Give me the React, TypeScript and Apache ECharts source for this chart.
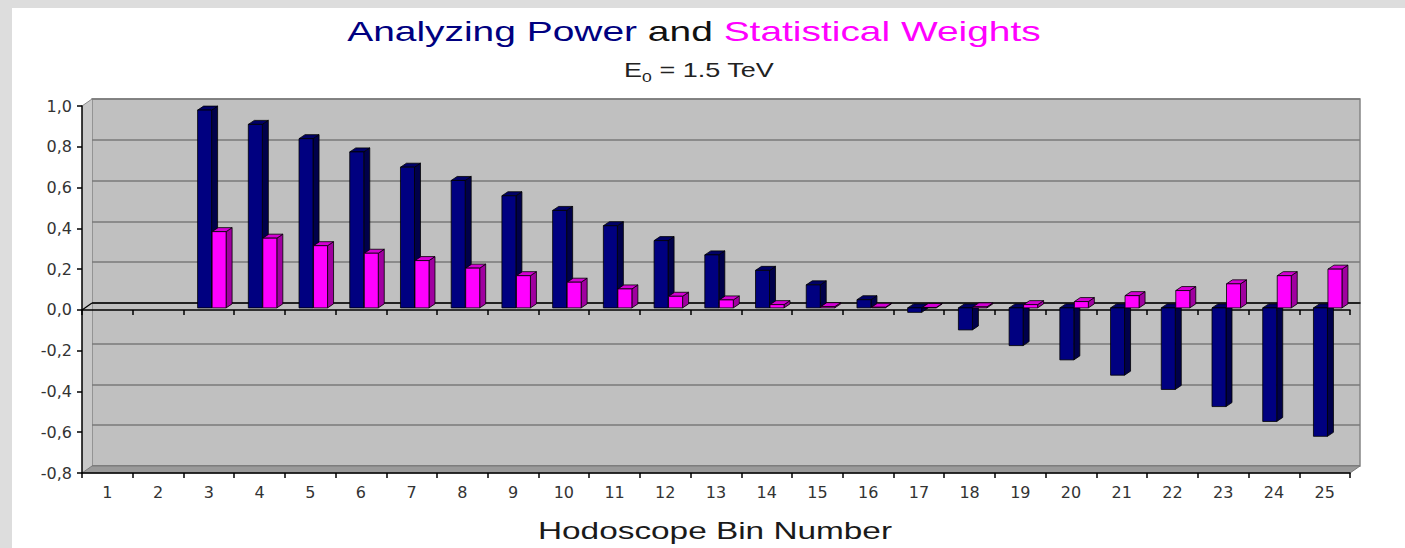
import React, { useEffect, useRef } from 'react';
import * as echarts from 'echarts';

// ---- Data ----
const categories = ['1', '2', '3', '4', '5', '6', '7', '8', '9', '10', '11', '12', '13', '14', '15', '16', '17', '18', '19', '20', '21', '22', '23', '24', '25'];
const analyzingPower: (number | null)[] = [null, null, 0.97, 0.9, 0.83, 0.765, 0.69, 0.625, 0.55, 0.478, 0.403, 0.33, 0.26, 0.184, 0.113, 0.04, -0.022, -0.108, -0.185, -0.255, -0.33, -0.4, -0.484, -0.557, -0.63];
const statisticalWeights: (number | null)[] = [null, null, 0.374, 0.342, 0.305, 0.268, 0.232, 0.195, 0.158, 0.126, 0.093, 0.057, 0.039, 0.016, 0.006, 0.003, 0.002, 0.005, 0.016, 0.031, 0.06, 0.085, 0.118, 0.158, 0.19];
const Y_MIN = -0.8;
const Y_MAX = 1.0;
const Y_STEP = 0.2;

// ---- Styling constants ----
const WALL_DX = 10;
const WALL_DY = 7;
const BAR_W = 14;
const BAR_DX = 6;
const BAR_DY = 4;
const BAR_LIFT = 2;

function barRenderer(xOffset: number, front: string, side: string, top: string) {
  return (params: any, api: any) => {
    const i = api.value(0);
    const v = api.value(1);
    if (v == null || isNaN(v)) return null;
    const p0 = api.coord([i, 0]);
    const p1 = api.coord([i, v]);
    const x = p0[0] + xOffset;
    const yA = Math.min(p0[1], p1[1]) - BAR_LIFT;
    const yB = Math.max(p0[1], p1[1]) - BAR_LIFT;
    const h = Math.max(yB - yA, 0.5);
    const stroke = '#000';
    const lw = 0.8;
    return {
      type: 'group',
      children: [
        {
          type: 'polygon',
          shape: { points: [[x + BAR_W, yA], [x + BAR_W + BAR_DX, yA - BAR_DY], [x + BAR_W + BAR_DX, yA + h - BAR_DY], [x + BAR_W, yA + h]] },
          style: { fill: side, stroke, lineWidth: lw },
        },
        {
          type: 'polygon',
          shape: { points: [[x, yA], [x + BAR_DX, yA - BAR_DY], [x + BAR_W + BAR_DX, yA - BAR_DY], [x + BAR_W, yA]] },
          style: { fill: top, stroke, lineWidth: lw },
        },
        {
          type: 'rect',
          shape: { x, y: yA, width: BAR_W, height: h },
          style: { fill: front, stroke, lineWidth: lw },
        },
      ],
    };
  };
}

function frameRenderer(params: any, api: any) {
  const bw = api.size([1, 0])[0];
  const L = api.coord([0, Y_MAX])[0] - bw / 2;
  const R = api.coord([categories.length - 1, Y_MAX])[0] + bw / 2;
  const top = api.coord([0, Y_MAX])[1];
  const bot = api.coord([0, Y_MIN])[1];
  const zero = api.coord([0, 0])[1];
  return {
    type: 'group',
    children: [
      {
        type: 'polygon',
        shape: { points: [[L, top], [L + WALL_DX, top - WALL_DY], [L + WALL_DX, bot - WALL_DY], [L, bot]] },
        style: { fill: '#c8c8c8' },
      },
      {
        type: 'polygon',
        shape: { points: [[L, bot], [L + WALL_DX, bot - WALL_DY], [R + WALL_DX, bot - WALL_DY], [R, bot]] },
        style: { fill: '#9a9a9a', stroke: '#7a7a7a', lineWidth: 1 },
      },
      {
        type: 'line',
        shape: { x1: L, y1: zero, x2: L + WALL_DX, y2: zero - WALL_DY },
        style: { stroke: '#000', lineWidth: 1.2 },
      },
      {
        type: 'line',
        shape: { x1: L, y1: top, x2: L + WALL_DX, y2: top - WALL_DY },
        style: { stroke: '#8a8a8a', lineWidth: 1 },
      },
    ],
  };
}

const fmt = (v: number) => v.toFixed(1).replace('.', ',');

export default function App() {
  const ref = useRef<HTMLDivElement>(null);
  useEffect(() => {
    if (!ref.current) return;
    const chart = echarts.init(ref.current, null, { renderer: 'svg' });
    const labelFont = 'DejaVu Sans';
    const titleFont = 'Liberation Sans, Arial, sans-serif';
    const option: any = {
      animation: false,
      backgroundColor: '#ffffff',
      grid: [
        { left: 82, right: 55, top: 106, bottom: 75, show: false },
        { left: 92, right: 45, top: 99, bottom: 82, show: true, backgroundColor: '#c0c0c0', borderColor: '#858585', borderWidth: 1.5 },
      ],
      xAxis: [
        {
          type: 'category', gridIndex: 0, data: categories, position: 'bottom', boundaryGap: true, z: 3,
          axisLine: { onZero: false, lineStyle: { color: '#000', width: 1.5 } },
          axisTick: { show: true, length: 5, lineStyle: { color: '#000', width: 1.5 } },
          axisLabel: { color: '#333', fontSize: 16, fontFamily: labelFont, margin: 11 },
          splitLine: { show: false },
        },
        {
          type: 'category', gridIndex: 0, data: categories, position: 'top', boundaryGap: true, z: 1,
          axisLine: { onZero: true, lineStyle: { color: '#000', width: 1.5 } },
          axisTick: { show: true, inside: true, length: 5, lineStyle: { color: '#000', width: 1.5 } },
          axisLabel: { show: false },
          splitLine: { show: false },
        },
        {
          type: 'category', gridIndex: 1, data: categories, boundaryGap: true,
          axisLine: { onZero: true, lineStyle: { color: '#000', width: 1.5 } },
          axisTick: { show: false },
          axisLabel: { show: false },
          splitLine: { show: false },
        },
      ],
      yAxis: [
        {
          type: 'value', gridIndex: 0, min: Y_MIN, max: Y_MAX, interval: Y_STEP, z: 3,
          axisLine: { show: true, lineStyle: { color: '#000', width: 1.5 } },
          axisTick: { show: true, length: 5, lineStyle: { color: '#000', width: 1.5 } },
          axisLabel: { formatter: fmt, color: '#333', fontSize: 16, fontFamily: labelFont, margin: 10 },
          splitLine: { show: false },
        },
        {
          type: 'value', gridIndex: 1, min: Y_MIN, max: Y_MAX, interval: Y_STEP,
          axisLine: { show: false },
          axisTick: { show: false },
          axisLabel: { show: false },
          splitLine: { show: true, lineStyle: { color: '#7a7a7a', width: 1.5 } },
        },
      ],
      graphic: [
        { type: 'rect', left: 0, top: 0, silent: true, shape: { width: 1405, height: 8 }, style: { fill: '#dddddd' } },
        { type: 'rect', left: 0, top: 0, silent: true, shape: { width: 12, height: 548 }, style: { fill: '#dddddd' } },
        {
          type: 'text', x: 694, y: 31, scaleX: 1.39, silent: true,
          style: {
            text: '{a|Analyzing Power} {b|and} {c|Statistical Weights}',
            fontFamily: titleFont, fontSize: 28, fill: '#111',
            align: 'center', verticalAlign: 'middle', textAlign: 'center', textVerticalAlign: 'middle',
            rich: {
              a: { fill: '#000080', fontSize: 28, fontFamily: titleFont },
              b: { fill: '#111111', fontSize: 28, fontFamily: titleFont },
              c: { fill: '#ff00ff', fontSize: 28, fontFamily: titleFont },
            },
          },
        },
        {
          type: 'text', x: 699, y: 70, scaleX: 1.35, silent: true,
          style: {
            text: 'E{s|0} = 1.5 TeV',
            fontFamily: titleFont, fontSize: 20, fill: '#222',
            align: 'center', verticalAlign: 'middle', textAlign: 'center', textVerticalAlign: 'middle',
            rich: {
              s: { fontSize: 13, fill: '#222', fontFamily: titleFont, padding: [14, 0, 0, 0] },
            },
          },
        },
        {
          type: 'text', x: 715, y: 531, scaleX: 1.39, silent: true,
          style: {
            text: 'Hodoscope Bin Number',
            fontFamily: titleFont, fontSize: 24, fill: '#1a1a1a',
            align: 'center', verticalAlign: 'middle', textAlign: 'center', textVerticalAlign: 'middle',
          },
        },
      ],
      series: [
        {
          type: 'custom', name: 'frame', xAxisIndex: 0, yAxisIndex: 0, z: 1, silent: true,
          data: [[0, 0]], encode: { x: 0, y: 1 }, renderItem: frameRenderer,
        },
        {
          type: 'custom', name: 'Analyzing Power', xAxisIndex: 0, yAxisIndex: 0, z: 2, silent: true,
          data: analyzingPower.map((v, i) => [i, v]).filter((d) => d[1] != null),
          encode: { x: 0, y: 1 },
          renderItem: barRenderer(-11.2, '#000080', '#00004a', '#000066'),
        },
        {
          type: 'custom', name: 'Statistical Weights', xAxisIndex: 0, yAxisIndex: 0, z: 2, silent: true,
          data: statisticalWeights.map((v, i) => [i, v]).filter((d) => d[1] != null),
          encode: { x: 0, y: 1 },
          renderItem: barRenderer(3.3, '#ff00ff', '#a000a0', '#d400d4'),
        },
      ],
    };
    chart.setOption(option);
    return () => chart.dispose();
  }, []);
  return <div ref={ref} style={{ position: 'fixed', left: 0, top: 0, width: 1405, height: 548 }} />;
}
